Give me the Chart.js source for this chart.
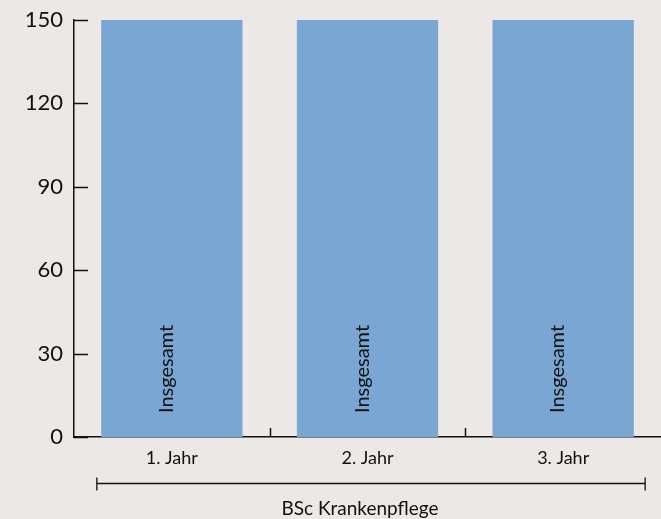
<!DOCTYPE html>
<html>
<head>
<meta charset="utf-8">
<script src="https://cdn.jsdelivr.net/npm/chart.js@4"></script>
<style>
  html, body { margin: 0; padding: 0; background: #ebe8e5; }
  #chart { display: block; }
</style>
</head>
<body>
<canvas id="chart" width="661" height="519"></canvas>
<script>
const categories = ['1. Jahr', '2. Jahr', '3. Jahr']
const totals = [150, 150, 150]
const barLabel = 'Insgesamt'
const groupLabel = 'BSc Krankenpflege'
const yTicks = [0, 30, 60, 90, 120, 150]

const fontFamily = 'Lato, "Open Sans", sans-serif'

// tick marks pointing into the plot, labels in the bars, group bracket
const decorations = {
    id: 'decorations',
    afterDatasetsDraw(chart) {
        const ctx = chart.ctx
        const x = chart.scales.x
        const y = chart.scales.y
        const area = chart.chartArea
        ctx.save()
        ctx.strokeStyle = '#111'
        ctx.lineWidth = 1.5

        yTicks.forEach(v => {
            const py = Math.round(y.getPixelForValue(v)) + 0.5
            ctx.beginPath()
            ctx.moveTo(area.left, py)
            ctx.lineTo(area.left + 14, py)
            ctx.stroke()
        })

        for (let i = 0; i < categories.length - 1; i++) {
            const px = Math.round((x.getPixelForValue(i) + x.getPixelForValue(i + 1)) / 2) + 0.5
            ctx.beginPath()
            ctx.moveTo(px, area.bottom)
            ctx.lineTo(px, area.bottom - 9)
            ctx.stroke()
        }

        // rotated labels inside bars
        const meta = chart.getDatasetMeta(0)
        ctx.fillStyle = '#111'
        ctx.font = '20px ' + fontFamily
        ctx.textAlign = 'left'
        ctx.textBaseline = 'alphabetic'
        meta.data.forEach(bar => {
            ctx.save()
            ctx.translate(bar.x + 1, area.bottom - 24)
            ctx.rotate(-Math.PI / 2)
            ctx.fillText(barLabel, 0, 0)
            ctx.restore()
        })

        // group bracket under the category labels
        const left = x.getPixelForValue(0) - 75
        const right = x.getPixelForValue(categories.length - 1) + 82
        const by = area.bottom + 46.5
        ctx.lineWidth = 1.3
        ctx.beginPath()
        ctx.moveTo(left, by)
        ctx.lineTo(right, by)
        ctx.moveTo(left, by - 6)
        ctx.lineTo(left, by + 7)
        ctx.moveTo(right, by - 6)
        ctx.lineTo(right, by + 7)
        ctx.stroke()

        ctx.font = '19px ' + fontFamily
        ctx.textAlign = 'center'
        ctx.textBaseline = 'middle'
        ctx.fillText(groupLabel, (left + right) / 2 - 11, area.bottom + 72)
        ctx.restore()
    }
}

new Chart(document.getElementById('chart'), {
    type: 'bar',
    data: {
        labels: categories,
        datasets: [{
            label: barLabel,
            data: totals,
            backgroundColor: '#7aa6d3',
            borderWidth: 0,
            categoryPercentage: 0.722,
            barPercentage: 1.0,
        }],
    },
    options: {
        responsive: false,
        animation: false,
        layout: { padding: { top: 20, right: -3, left: 0, bottom: 0 } },
        plugins: {
            legend: { display: false },
            tooltip: { enabled: false },
        },
        scales: {
            x: {
                grid: { display: false, drawTicks: false },
                border: { display: true, color: '#111', width: 1.5 },
                ticks: {
                    color: '#111',
                    font: { family: fontFamily, size: 18 },
                    padding: 10,
                },
                afterFit(scale) { scale.height = 82 },
            },
            y: {
                min: 0,
                max: 150,
                grid: { display: false, drawTicks: false },
                border: { display: true, color: '#111', width: 1.5 },
                afterBuildTicks(scale) { scale.ticks = yTicks.map(v => ({ value: v })) },
                ticks: {
                    color: '#111',
                    font: { family: fontFamily, size: 22 },
                    padding: 11,
                },
                afterFit(scale) {
                    scale.width = 74
                    scale.paddingTop = 0
                    scale.paddingBottom = 0
                },
            },
        },
    },
    plugins: [decorations],
})
</script>
</body>
</html>
